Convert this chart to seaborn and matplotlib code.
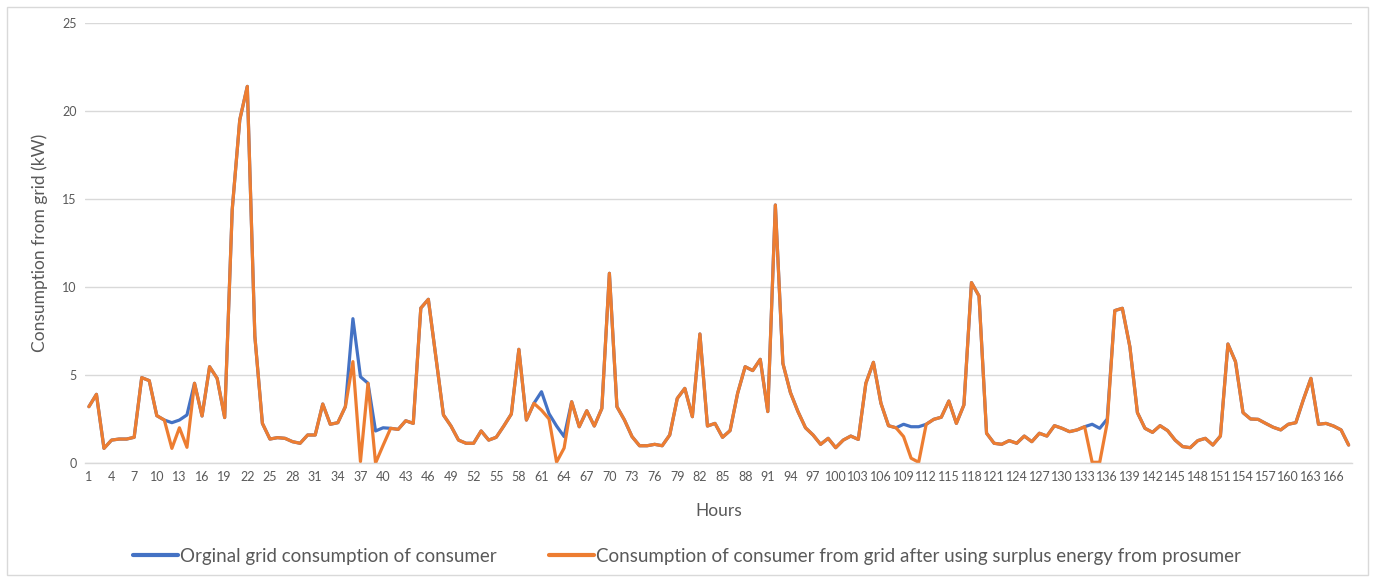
import matplotlib
matplotlib.use("Agg")
import matplotlib.pyplot as plt
from matplotlib.patches import Rectangle
import numpy as np
import pandas as pd
import seaborn as sns

# Hourly grid consumption over one week (kW)
hours = list(range(1, 169))

original_kw = [
    3.2, 3.9, 0.83, 1.3, 1.36, 1.36, 1.46, 4.85, 4.68, 2.69, 2.44, 2.29,
    2.44, 2.73, 4.53, 2.67, 5.47, 4.81, 2.58, 14.4, 19.5, 21.4, 7.2, 2.25,
    1.36, 1.44, 1.4, 1.21, 1.12, 1.59, 1.59, 3.35, 2.2, 2.29, 3.2, 8.2,
    4.9, 4.53, 1.82, 2.0, 1.97, 1.91, 2.4, 2.25, 8.8, 9.3, 6.0, 2.73,
    2.1, 1.3, 1.12, 1.12, 1.82, 1.3, 1.46, 2.1, 2.78, 6.46, 2.44, 3.39,
    4.05, 2.8, 2.1, 1.5, 3.48, 2.06, 2.97, 2.1, 3.1, 10.78, 3.2, 2.44,
    1.5, 0.98, 0.98, 1.06, 0.98, 1.59, 3.67, 4.24, 2.63, 7.33, 2.1, 2.25,
    1.46, 1.84, 3.96, 5.47, 5.25, 5.89, 2.92, 14.66, 5.66, 4.0, 2.92, 2.0,
    1.59, 1.06, 1.4, 0.87, 1.3, 1.53, 1.34, 4.53, 5.72, 3.39, 2.12, 2.0,
    2.2, 2.06, 2.06, 2.2, 2.48, 2.6, 3.52, 2.25, 3.3, 10.25, 9.49, 1.69,
    1.12, 1.06, 1.27, 1.12, 1.53, 1.21, 1.69, 1.53, 2.12, 1.97, 1.78, 1.88,
    2.06, 2.2, 1.97, 2.5, 8.66, 8.79, 6.6, 2.86, 1.97, 1.74, 2.12, 1.84,
    1.3, 0.93, 0.87, 1.27, 1.4, 1.02, 1.53, 6.76, 5.76, 2.86, 2.5, 2.48,
    2.25, 2.03, 1.88, 2.2, 2.29, 3.6, 4.81, 2.2, 2.25, 2.1, 1.88, 1.02,
]

after_surplus_kw = [
    3.2, 3.9, 0.83, 1.3, 1.36, 1.36, 1.46, 4.85, 4.68, 2.69, 2.44, 0.83,
    2.0, 0.89, 4.53, 2.67, 5.47, 4.81, 2.58, 14.4, 19.5, 21.4, 7.2, 2.25,
    1.36, 1.44, 1.4, 1.21, 1.12, 1.59, 1.59, 3.35, 2.2, 2.29, 3.2, 5.76,
    0.08, 4.53, 0.0, 1.0, 1.97, 1.91, 2.4, 2.25, 8.8, 9.3, 6.0, 2.73,
    2.1, 1.3, 1.12, 1.12, 1.82, 1.3, 1.46, 2.1, 2.78, 6.46, 2.44, 3.39,
    3.0, 2.5, 0.05, 0.85, 3.48, 2.06, 2.97, 2.1, 3.1, 10.78, 3.2, 2.44,
    1.5, 0.98, 0.98, 1.06, 0.98, 1.59, 3.67, 4.24, 2.63, 7.33, 2.1, 2.25,
    1.46, 1.84, 3.96, 5.47, 5.25, 5.89, 2.92, 14.66, 5.66, 4.0, 2.92, 2.0,
    1.59, 1.06, 1.4, 0.87, 1.3, 1.53, 1.34, 4.53, 5.72, 3.39, 2.12, 2.0,
    1.5, 0.27, 0.04, 2.2, 2.48, 2.6, 3.52, 2.25, 3.3, 10.25, 9.49, 1.69,
    1.12, 1.06, 1.27, 1.12, 1.53, 1.21, 1.69, 1.53, 2.12, 1.97, 1.78, 1.88,
    2.06, 0.04, 0.04, 2.3, 8.66, 8.79, 6.6, 2.86, 1.97, 1.74, 2.12, 1.84,
    1.3, 0.93, 0.87, 1.27, 1.4, 1.02, 1.53, 6.76, 5.76, 2.86, 2.5, 2.48,
    2.25, 2.03, 1.88, 2.2, 2.29, 3.6, 4.81, 2.2, 2.25, 2.1, 1.88, 1.02,
]

series_names = [
    "Orginal grid consumption of consumer",
    "Consumption of consumer from grid after using surplus energy from prosumer",
]
series_colors = ["#4472C4", "#ED7D31"]

y_ticks = [0, 5, 10, 15, 20, 25]
x_tick_hours = list(range(1, 167, 3))

sns.set_theme(style="white")
plt.rcParams["font.family"] = ["Lato", "DejaVu Sans"]

df = pd.DataFrame({
    "Hours": hours * 2,
    "kW": original_kw + after_surplus_kw,
    "Series": [series_names[0]] * len(hours) + [series_names[1]] * len(hours),
})

fig = plt.figure(figsize=(13.73, 5.77), dpi=100)
ax = fig.add_axes([0.062, 0.1976, 0.923, 0.7625])

sns.lineplot(
    data=df, x="Hours", y="kW", hue="Series",
    hue_order=series_names, palette=series_colors,
    linewidth=2.3, ax=ax, legend=False,
)

ax.set_xlim(0.5, 168.5)
ax.set_ylim(0, 25)
ax.set_yticks(y_ticks)
ax.set_xticks(x_tick_hours)
ax.set_xticklabels([str(h) for h in x_tick_hours])
ax.tick_params(axis="both", length=0, labelsize=9, colors="#595959", pad=6)
ax.yaxis.grid(True, color="#d9d9d9", linewidth=1)
ax.xaxis.grid(False)
for side in ["top", "right", "left"]:
    ax.spines[side].set_visible(False)
ax.spines["bottom"].set_color("#d9d9d9")
ax.spines["bottom"].set_linewidth(1)

ax.set_xlabel("Hours", fontsize=12.5, color="#595959", labelpad=14)
ax.set_ylabel("Consumption from grid (kW)", fontsize=12.5, color="#595959", labelpad=10)

handles = [plt.Line2D([0], [0], color=c, linewidth=3) for c in series_colors]
fig.legend(
    handles, series_names, loc="center", bbox_to_anchor=(0.5, 0.036),
    ncol=2, frameon=False, fontsize=13.5, labelcolor="#595959",
    handlelength=2.4, handletextpad=0.1, columnspacing=2.8,
)

fig.patches.append(Rectangle(
    (7 / 1373, 2 / 577), 1361 / 1373, 568 / 577,
    transform=fig.transFigure, fill=False, edgecolor="#d9d9d9", linewidth=1,
))

fig.savefig("out.png", dpi=100, facecolor="white")
